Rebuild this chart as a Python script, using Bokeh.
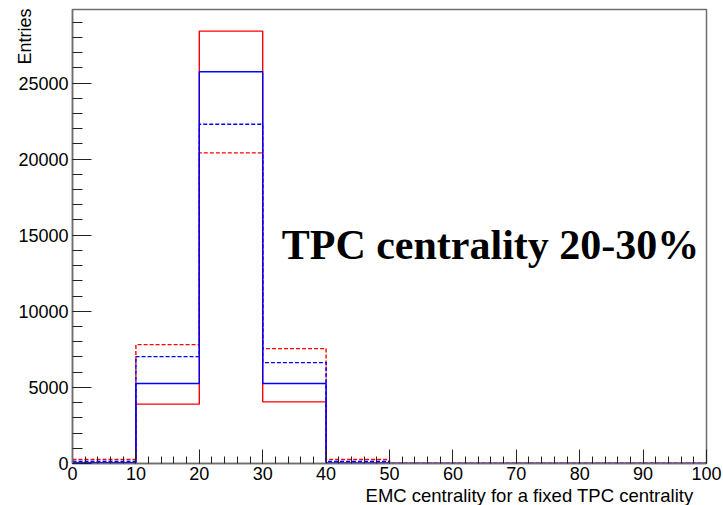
import numpy as np
from bokeh.plotting import figure
from bokeh.models import Range1d, SingleIntervalTicker, Label, Title
from bokeh.embed import file_html
from bokeh.resources import INLINE

# Bin edges of the EMC centrality histograms (10% bins)
bin_edges = [0, 10, 20, 30, 40, 50, 60, 70, 80, 90, 100]

# Entries per bin
red_solid = [10, 3900, 28410, 4050, 10, 0, 0, 0, 0, 0]
red_dashed = [260, 7810, 20410, 7550, 260, 0, 0, 0, 0, 0]
blue_dashed = [130, 7025, 22290, 6630, 130, 0, 0, 0, 0, 0]
blue_solid = [50, 5255, 25740, 5255, 30, 0, 0, 0, 0, 0]

x_ticks_interval = 10
y_ticks_interval = 5000

title_text = "TPC centrality 20-30%"
x_title = "EMC centrality for a fixed TPC centrality"
y_title = "Entries"

W, H = 723, 505
p = figure(width=W, height=H, output_backend="svg", toolbar_location=None,
           x_range=Range1d(0, 100), y_range=Range1d(0, 29830),
           min_border_left=72, min_border_right=17,
           min_border_top=9, min_border_bottom=42)
p.background_fill_color = "white"
p.border_fill_color = "white"
p.grid.visible = False
p.outline_line_color = "#6e6e6e"
p.outline_line_width = 1.5


def outline(vals, color, dash):
    xs = np.array(bin_edges, dtype=float)
    ys = np.append(np.array(vals, dtype=float), vals[-1])
    p.step(x=xs, y=ys, mode="after", line_color=color, line_width=1.4,
           line_dash=dash)


outline(red_solid, "#ff0000", "solid")
outline(red_dashed, "#ff0000", "4 2")
outline(blue_dashed, "#0000ff", "4 2")
outline(blue_solid, "#0000ff", "solid")

# Axes: ticks drawn inward
xa = p.xaxis[0]
xa.ticker = SingleIntervalTicker(interval=x_ticks_interval, num_minor_ticks=5)
xa.major_tick_in = 14
xa.major_tick_out = 0
xa.minor_tick_in = 7
xa.minor_tick_out = 0
xa.major_label_standoff = 3

ya = p.yaxis[0]
ya.ticker = SingleIntervalTicker(interval=y_ticks_interval, num_minor_ticks=5)
ya.major_tick_in = 19
ya.major_tick_out = 0
ya.minor_tick_in = 10
ya.minor_tick_out = 0
ya.major_label_standoff = 4

for ax in (xa, ya):
    ax.axis_line_color = "#6e6e6e"
    ax.axis_line_width = 1.5
    ax.major_tick_line_color = "#222222"
    ax.minor_tick_line_color = "#222222"
    ax.major_label_text_font = "Liberation Sans"
    ax.major_label_text_font_size = "18px"
    ax.major_label_text_color = "black"

# Axis titles, right/top aligned at the axis ends
p.add_layout(Title(text=x_title, align="right", offset=13, standoff=0,
                   text_font="Liberation Sans", text_font_size="18.5px",
                   text_font_style="normal", text_color="black"), "below")
p.add_layout(Title(text=y_title, align="right", offset=-1, standoff=-38,
                   text_font="Liberation Sans", text_font_size="18px",
                   text_font_style="normal", text_color="black"), "left")

# Panel caption
p.add_layout(Label(x=33.0, y=14380, text=title_text, text_align="left",
                   text_baseline="alphabetic", text_font="Liberation Serif",
                   text_font_style="bold", text_font_size="42px",
                   text_color="black"))

open("out.html", "w").write(file_html(p, INLINE))
